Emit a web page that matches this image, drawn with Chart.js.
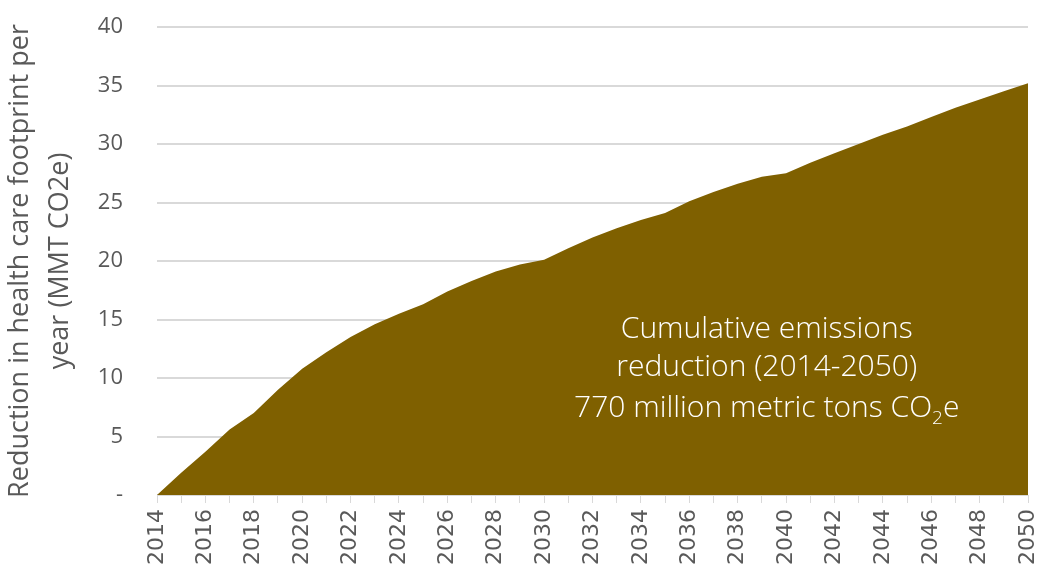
<!DOCTYPE html>
<html lang="en">
<head>
    <meta charset="UTF-8">
    <title>Reduction in health care footprint</title>
    <script src="https://cdn.jsdelivr.net/npm/chart.js"></script>
    <style>
        * { margin: 0; padding: 0; box-sizing: border-box; }
        body { background: #ffffff; width: 1039px; height: 577px; overflow: hidden; }
    </style>
</head>
<body>
    <canvas id="chart" width="1039" height="577"></canvas>

    <script>
        // Chart data
        const years = [];
        for (let y = 2014; y <= 2050; y++) years.push(String(y));

        const reduction = [
            0, 1.9, 3.7, 5.6, 7.0, 9.0, 10.8, 12.2, 13.5, 14.6,
            15.5, 16.3, 17.4, 18.3, 19.1, 19.7, 20.1, 21.1, 22.0, 22.8,
            23.5, 24.1, 25.1, 25.9, 26.6, 27.2, 27.5, 28.4, 29.2, 30.0,
            30.8, 31.5, 32.3, 33.1, 33.8, 34.5, 35.2
        ];

        const yTicks = [0, 5, 10, 15, 20, 25, 30, 35, 40];
        const yTitle = ['Reduction in health care footprint per', 'year (MMT CO2e)'];
        const noteLines = ['Cumulative emissions', 'reduction (2014-2050)', '770 million metric tons CO', '2', 'e'];

        const grey = '#595959';
        const gridGrey = '#d9d9d9';

        // Text label inside the area
        const notePlugin = {
            id: 'note',
            afterDatasetsDraw(chart) {
                const { ctx, chartArea } = chart;
                const yScale = chart.scales.y;
                const cx = chartArea.left + 0.70 * (chartArea.right - chartArea.left);
                const mainFont = '300 30px "Open Sans"';
                const subFont = '300 19px "Open Sans"';
                ctx.save();
                ctx.fillStyle = '#ffffff';
                ctx.font = mainFont;
                ctx.textAlign = 'center';
                ctx.textBaseline = 'alphabetic';
                ctx.fillText(noteLines[0], cx, yScale.getPixelForValue(13.4));
                ctx.fillText(noteLines[1], cx, yScale.getPixelForValue(10.2));

                // third line with subscript 2
                const base = yScale.getPixelForValue(6.7);
                const w1 = ctx.measureText(noteLines[2]).width;
                const w3 = ctx.measureText(noteLines[4]).width;
                ctx.font = subFont;
                const w2 = ctx.measureText(noteLines[3]).width;
                let x = cx - (w1 + w2 + w3) / 2;
                ctx.textAlign = 'left';
                ctx.font = mainFont;
                ctx.fillText(noteLines[2], x, base);
                x += w1;
                ctx.font = subFont;
                ctx.fillText(noteLines[3], x, base + 7);
                x += w2;
                ctx.font = mainFont;
                ctx.fillText(noteLines[4], x, base);
                ctx.restore();
            }
        };

        new Chart(document.getElementById('chart'), {
            type: 'line',
            data: {
                labels: years,
                datasets: [{
                    data: reduction,
                    fill: 'origin',
                    backgroundColor: '#7f6000',
                    borderColor: '#7f6000',
                    borderWidth: 0,
                    pointRadius: 0,
                    tension: 0
                }]
            },
            options: {
                responsive: false,
                animation: false,
                devicePixelRatio: 1,
                layout: { padding: { top: 27, right: 11, left: 0, bottom: 0 } },
                plugins: {
                    legend: { display: false },
                    tooltip: { enabled: false }
                },
                scales: {
                    x: {
                        offset: false,
                        border: { display: true, color: gridGrey, width: 1 },
                        grid: { drawOnChartArea: false, drawTicks: true, tickLength: 8, color: gridGrey },
                        ticks: {
                            autoSkip: false,
                            minRotation: 90,
                            maxRotation: 90,
                            padding: 6,
                            color: grey,
                            font: { family: 'DejaVu Sans', size: 22 },
                            callback: function(v, i) {
                                return i % 2 === 0 ? years[i] : '';
                            }
                        },
                        afterFit(scale) {
                            scale.height = 82;
                            scale.paddingLeft = 0;
                            scale.paddingRight = 0;
                        }
                    },
                    y: {
                        min: 0,
                        max: 40,
                        border: { display: false },
                        grid: { color: gridGrey, lineWidth: 2, drawTicks: false },
                        afterBuildTicks(scale) {
                            scale.ticks = yTicks.map(v => ({ value: v }));
                        },
                        ticks: {
                            padding: 34,
                            color: grey,
                            font: { family: 'Open Sans', size: 22 },
                            callback: v => v === 0 ? '-' : String(v)
                        },
                        title: {
                            display: true,
                            text: yTitle,
                            color: grey,
                            font: { family: 'Open Sans', size: 27, lineHeight: 1.5 },
                            padding: { top: 0, bottom: 0 }
                        },
                        afterFit(scale) {
                            scale.width = 157;
                            scale.paddingTop = 0;
                            scale.paddingBottom = 0;
                        }
                    }
                }
            },
            plugins: [notePlugin]
        });
    </script>
</body>
</html>
